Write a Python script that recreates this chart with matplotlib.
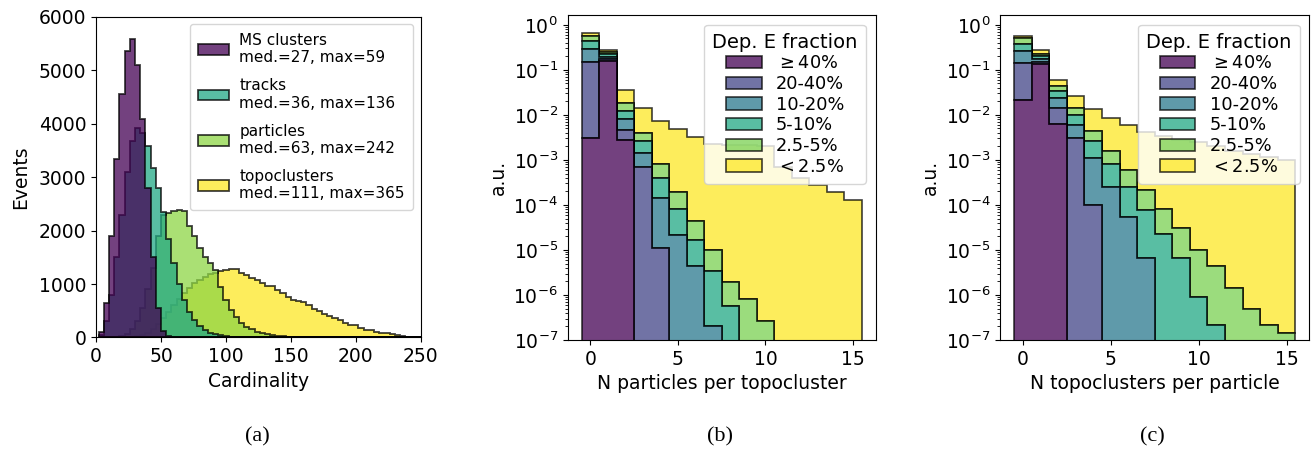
import matplotlib.pyplot as plt
import numpy as np

# (a) set sizes per event, counts in 4-wide bins starting at 2
card_edges = np.arange(2, 251, 4)
ms_counts = [100, 650, 1900, 3330, 4550, 5350, 5580, 5100, 4080, 2800, 1500, 550, 120, 30]
track_counts = [50, 300, 800, 1500, 2300, 3100, 3670, 3920, 3830, 3580, 3170, 2800, 2350,
                1850, 1400, 1000, 700, 480, 320, 210, 140, 90, 60, 40, 25, 15, 10, 6, 4, 3, 2, 1, 1]
particle_counts = [0, 0, 0, 0, 20, 60, 150, 300, 550, 900, 1300, 1900, 2300, 2320, 2360, 2390,
                   2360, 2080, 1890, 1670, 1500, 1390, 1265, 950, 700, 515, 390, 265, 200, 150,
                   110, 80, 60, 45, 35, 25, 18, 12, 9, 6, 4, 3, 2, 2, 1, 1]
topo_counts = [0, 0, 0, 0, 0, 5, 10, 20, 45, 90, 160, 250, 360, 480, 600, 720, 830, 930, 1010,
               1080, 1140, 1180, 1210, 1250, 1270, 1290, 1280, 1200, 1170, 1120, 1070, 1010, 970,
               960, 890, 840, 760, 700, 680, 665, 600, 540, 490, 440, 405, 370, 320, 280, 240,
               225, 175, 145, 135, 110, 92, 80, 62, 45, 30, 18, 12, 8]
card_labels = ['MS clusters\nmed.=27, max=59', 'tracks\nmed.=36, max=136',
               'particles\nmed.=63, max=242', 'topoclusters\nmed.=111, max=365']

# (b), (c) stacked fractions per multiplicity, one list per deposited-energy class
frac_labels = [r'$\geq$40%', '20-40%', '10-20%', '5-10%', '2.5-5%', r'$<$2.5%']
mult_bins = np.arange(16)

parts_per_topo = [
    [3.1e-3, 0.158, 2.8e-3, 0, 0, 0, 0, 0, 0, 0, 0, 0, 0, 0, 0, 0],
    [0.150, 0.017, 1.9e-3, 7e-4, 1.1e-5, 0, 0, 0, 0, 0, 0, 0, 0, 0, 0, 0],
    [0.137, 0.023, 3.3e-3, 7e-4, 1.29e-4, 2.2e-5, 4.4e-6, 2e-7, 0, 0, 0, 0, 0, 0, 0, 0],
    [0.14, 0.025, 4.5e-3, 1.2e-3, 2.5e-4, 5.8e-5, 1.26e-5, 3.3e-6, 5.6e-7, 0, 0, 0, 0, 0, 0, 0],
    [0.14, 0.024, 5.5e-3, 1.4e-3, 4.1e-4, 1.1e-4, 2.8e-5, 6.5e-6, 1.34e-6, 8.2e-7, 2.6e-7,
     0, 0, 0, 0, 0],
    [0.08, 0.031, 0.017, 0.010, 6.7e-3, 4.6e-3, 3.25e-3, 2.3e-3, 2.2e-3, 2.1e-3, 2.0e-3,
     7e-4, 3.9e-4, 2.8e-4, 1.9e-4, 1.3e-4],
]

topos_per_part = [
    [0.022, 0.135, 6.3e-3, 0, 0, 0, 0, 0, 0, 0, 0, 0, 0, 0, 0, 0],
    [0.124, 0.017, 7.7e-3, 3.1e-3, 9.8e-5, 0, 0, 0, 0, 0, 0, 0, 0, 0, 0, 0],
    [0.114, 0.023, 0.010, 2.9e-3, 1.0e-3, 2.5e-4, 5.5e-5, 6.8e-6, 0, 0, 0, 0, 0, 0, 0, 0],
    [0.115, 0.025, 0.010, 4.0e-3, 1.5e-3, 5.8e-4, 1.95e-4, 7.1e-5, 2.3e-5, 6.5e-6, 8.9e-7,
     2.2e-7, 0, 0, 0, 0],
    [0.125, 0.030, 9.0e-3, 4.0e-3, 1.7e-3, 7.7e-4, 3.4e-4, 1.32e-4, 5.7e-5, 2.45e-5, 9.1e-6,
     4.1e-6, 1.4e-6, 4.9e-7, 2.2e-7, 1.45e-7],
    [0.07, 0.045, 0.017, 0.012, 9.2e-3, 6.9e-3, 5.4e-3, 4.0e-3, 3.3e-3, 2.8e-3, 2.44e-3,
     2.0e-3, 1.6e-3, 1.35e-3, 1.15e-3, 1.0e-3],
]

tick_size = 13.5
alpha = 0.75

fig = plt.figure(figsize=(13.14, 4.51), dpi=100)
ax_a = fig.add_axes([0.0731, 0.2517, 0.2471, 0.7113])
ax_b = fig.add_axes([0.4320, 0.2461, 0.2344, 0.7206])
ax_c = fig.add_axes([0.7610, 0.2461, 0.2355, 0.7206])

# ---- (a) overlaid cardinality histograms, first series on top
card_colors = plt.cm.viridis([0.0, 0.6, 0.83, 1.0])
card_series = [ms_counts, track_counts, particle_counts, topo_counts]
centers = 0.5 * (card_edges[:-1] + card_edges[1:])
handles = [None] * 4
for i in reversed(range(4)):
    counts = card_series[i]
    _, _, patches = ax_a.hist(centers[:len(counts)], bins=card_edges, weights=counts,
                              histtype='stepfilled', color=card_colors[i], alpha=alpha,
                              edgecolor='black', linewidth=1.3, label=card_labels[i])
    handles[i] = patches[0]
ax_a.legend(handles, card_labels, loc='upper right', fontsize=11, labelspacing=0.85,
            handletextpad=0.7, borderpad=0.55)
ax_a.set_xlim(0, 250)
ax_a.set_ylim(0, 6000)
ax_a.set_xticks([0, 50, 100, 150, 200, 250])
ax_a.set_yticks(np.arange(0, 6001, 1000))
ax_a.set_xlabel('Cardinality', fontsize=tick_size)
ax_a.set_ylabel('Events', fontsize=tick_size, labelpad=6)
ax_a.tick_params(labelsize=tick_size)

# ---- (b), (c) stacked log histograms
frac_colors = plt.cm.viridis(np.linspace(0, 1, 6))
for ax, fractions, xlabel in [(ax_b, parts_per_topo, 'N particles per topocluster'),
                              (ax_c, topos_per_part, 'N topoclusters per particle')]:
    ax.hist([mult_bins] * 6, bins=np.arange(-0.5, 16.5, 1), weights=fractions,
            histtype='stepfilled', stacked=True, color=frac_colors, alpha=alpha,
            edgecolor='black', linewidth=1.2, label=frac_labels)
    ax.set_yscale('log')
    ax.set_ylim(1e-7, 10 ** 0.22)
    ax.set_xlim(-1.3, 16.3)
    ax.set_xticks([0, 5, 10, 15])
    ax.set_xlabel(xlabel, fontsize=tick_size)
    ax.set_ylabel('a.u.', fontsize=tick_size)
    ax.tick_params(labelsize=tick_size)
    h, l = ax.get_legend_handles_labels()
    order = [l.index(lab) for lab in frac_labels]
    ax.legend([h[k] for k in order], frac_labels, title='Dep. E fraction', loc='upper right',
              fontsize=12.8, title_fontsize=14, labelspacing=0.15, borderpad=0.45,
              borderaxespad=0.55)

for x, tag in [(0.196, '(a)'), (0.548, '(b)'), (0.877, '(c)')]:
    fig.text(x, 0.031, tag, ha='center', va='center', family='Liberation Serif', fontsize=16)

fig.savefig('out.png', dpi=100)
